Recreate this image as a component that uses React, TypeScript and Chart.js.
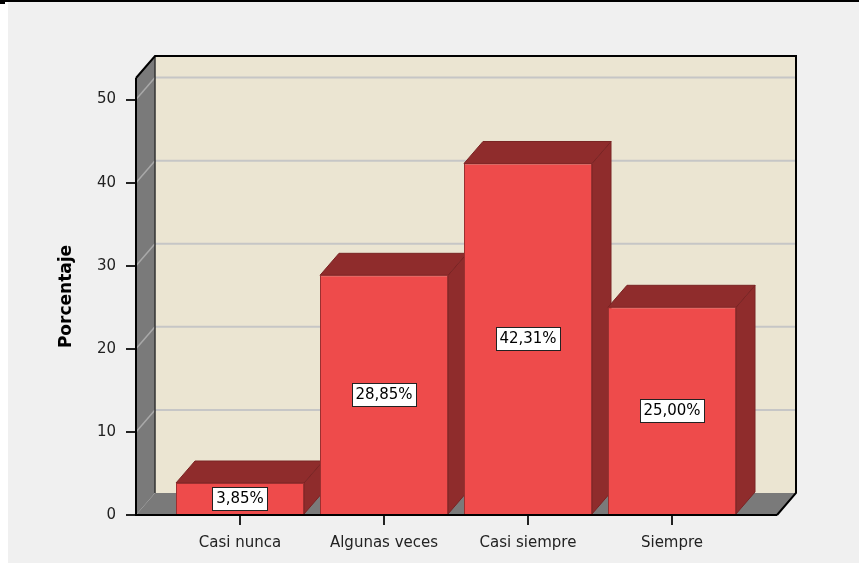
import React, { useEffect, useRef } from "react";
import { Chart, registerables } from "chart.js";

Chart.register(...registerables);

const categories = ["Casi nunca", "Algunas veces", "Casi siempre", "Siempre"];
const percentages = [3.85, 28.85, 42.31, 25.0];
const valueLabels = ["3,85%", "28,85%", "42,31%", "25,00%"];
const yTicks = [0, 10, 20, 30, 40, 50];
const yTitle = "Porcentaje";

const DX = 19;
const DY = 22;
const FRONT = "#ee4b4b";
const DARK = "#8f2c2c";
const WALL = "#ebe5d2";
const SIDE = "#7a7a7a";
const GRID = "#c6c6c6";
const GRID_SIDE = "#a9a9a9";
const FONT = "'DejaVu Sans', 'Liberation Sans', sans-serif";

function poly(ctx: CanvasRenderingContext2D, pts: number[][], fill: string, stroke?: string) {
  ctx.beginPath();
  ctx.moveTo(pts[0][0], pts[0][1]);
  for (let i = 1; i < pts.length; i++) ctx.lineTo(pts[i][0], pts[i][1]);
  ctx.closePath();
  ctx.fillStyle = fill;
  ctx.fill();
  if (stroke) {
    ctx.strokeStyle = stroke;
    ctx.lineWidth = 1;
    ctx.stroke();
  }
}

function line(ctx: CanvasRenderingContext2D, pts: number[][], color: string, w: number) {
  ctx.beginPath();
  ctx.moveTo(pts[0][0], pts[0][1]);
  for (let i = 1; i < pts.length; i++) ctx.lineTo(pts[i][0], pts[i][1]);
  ctx.strokeStyle = color;
  ctx.lineWidth = w;
  ctx.lineJoin = "miter";
  ctx.stroke();
}

const walls3d = {
  id: "walls3d",
  beforeDatasetsDraw(chart: any) {
    const { ctx, chartArea } = chart;
    const { left: L, right: R, top: T, bottom: B } = chartArea;
    const ys = chart.scales.y;
    ctx.save();
    ctx.fillStyle = WALL;
    ctx.fillRect(L + DX, T - DY, R - L, B - T);
    poly(ctx, [[L, T], [L + DX, T - DY], [L + DX, B - DY], [L, B]], SIDE);
    poly(ctx, [[L, B], [L + DX, B - DY], [R + DX, B - DY], [R, B]], SIDE);
    yTicks.forEach((v) => {
      if (v === 0) return;
      const py = ys.getPixelForValue(v);
      line(ctx, [[L + DX, py - DY], [R + DX, py - DY]], GRID, 2);
      line(ctx, [[L, py], [L + DX, py - DY]], GRID_SIDE, 1.5);
    });
    line(ctx, [[L + DX, T - DY], [L + DX, B - DY]], "#333", 1.5);
    line(ctx, [[L, T], [L + DX, T - DY], [R + DX, T - DY], [R + DX, B - DY], [R, B]], "#000", 2);
    const meta = chart.getDatasetMeta(0);
    meta.data.forEach((bar: any) => {
      const { x, y, base, width } = bar.getProps(["x", "y", "base", "width"], true);
      const l = x - width / 2;
      const r = x + width / 2;
      poly(ctx, [[r, y], [r + DX, y - DY], [r + DX, base - DY], [r, base]], DARK, "#7a2424");
      poly(ctx, [[l, y], [l + DX, y - DY], [r + DX, y - DY], [r, y]], DARK, "#7a2424");
    });
    ctx.restore();
  },
  afterDatasetsDraw(chart: any) {
    const { ctx, chartArea } = chart;
    const { left: L, right: R, top: T, bottom: B } = chartArea;
    ctx.save();
    line(ctx, [[L, T], [L, B], [R, B]], "#000", 2);
    const meta = chart.getDatasetMeta(0);
    ctx.font = `15px ${FONT}`;
    ctx.textAlign = "center";
    ctx.textBaseline = "middle";
    meta.data.forEach((bar: any, i: number) => {
      const { x, y, base } = bar.getProps(["x", "y", "base"], true);
      const cy = (y + base) / 2;
      const txt = valueLabels[i];
      const w = Math.round(ctx.measureText(txt).width + 7);
      const h = 23;
      const bx = Math.round(x - w / 2) + 0.5;
      const by = Math.round(cy - h / 2) + 0.5;
      ctx.fillStyle = "#fff";
      ctx.fillRect(bx, by, w, h);
      ctx.strokeStyle = "#222";
      ctx.lineWidth = 1;
      ctx.strokeRect(bx, by, w, h);
      ctx.fillStyle = "#000";
      ctx.fillText(txt, x, cy + 0.5);
    });
    ctx.restore();
  },
};

export default function App() {
  const ref = useRef<HTMLCanvasElement | null>(null);

  useEffect(() => {
    if (!ref.current) return;
    const chart = new Chart(ref.current, {
      type: "bar",
      data: {
        datasets: [
          {
            data: categories.map((_, i) => ({ x: i, y: percentages[i] })),
            backgroundColor: FRONT,
            borderColor: "#9a3030",
            borderWidth: 1,
            barPercentage: 0.889,
            categoryPercentage: 1,
          },
        ],
      },
      options: {
        animation: false,
        responsive: false,
        maintainAspectRatio: false,
        devicePixelRatio: 1,
        events: [],
        layout: { padding: { top: 78, right: 82, left: 0, bottom: 0 } },
        plugins: { legend: { display: false }, tooltip: { enabled: false } },
        scales: {
          x: {
            type: "linear",
            min: -0.7222,
            max: 3.7292,
            offset: false,
            grid: {
              display: true,
              offset: false,
              drawOnChartArea: false,
              drawTicks: true,
              tickLength: 10,
              color: "#222",
              lineWidth: 2,
            },
            border: { display: false },
            afterBuildTicks: (s: any) => {
              s.ticks = categories.map((_, i) => ({ value: i }));
            },
            afterFit: (s: any) => {
              s.height = 48;
            },
            ticks: {
              autoSkip: false,
              maxRotation: 0,
              padding: 9,
              color: "#222",
              font: { family: FONT, size: 15 },
              callback: (v: any) => categories[v as number],
            },
          },
          y: {
            type: "linear",
            min: 0,
            max: 52.6,
            grid: {
              display: true,
              drawOnChartArea: false,
              drawTicks: true,
              tickLength: 10,
              color: "#222",
              lineWidth: 2,
            },
            border: { display: false },
            afterBuildTicks: (s: any) => {
              s.ticks = yTicks.map((v) => ({ value: v }));
            },
            afterFit: (s: any) => {
              s.width = 136;
            },
            ticks: {
              padding: 10,
              color: "#222",
              font: { family: FONT, size: 15 },
            },
            title: {
              display: true,
              text: yTitle,
              color: "#000",
              font: { family: FONT, size: 17, weight: "bold" },
              padding: { top: 56, bottom: 0 },
            },
          },
        },
      },
      plugins: [walls3d],
    } as any);
    return () => chart.destroy();
  }, []);

  return (
    <div style={{ position: "absolute", left: 0, top: 0, width: 859, height: 563, background: "#fff", overflow: "hidden" }}>
      <div style={{ position: "absolute", left: 8, top: 2, width: 851, height: 561, background: "#f0f0f0" }} />
      <div style={{ position: "absolute", left: 0, top: 0, width: 859, height: 2, background: "#000" }} />
      <div style={{ position: "absolute", left: 0, top: 0, width: 5, height: 4, background: "#000" }} />
      <canvas
        ref={ref}
        width={859}
        height={563}
        style={{ position: "absolute", left: 0, top: 0, width: 859, height: 563, display: "block" }}
      />
    </div>
  );
}
